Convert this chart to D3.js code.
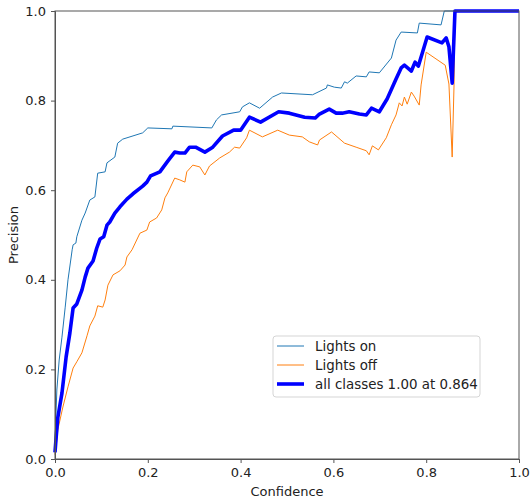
<!DOCTYPE html>
<html>
<head>
<meta charset="utf-8">
<script src="https://cdn.jsdelivr.net/npm/d3@7"></script>
<style>
  body { margin: 0; background: #fff; }
  svg text { font-family: "DejaVu Sans", sans-serif; fill: #222; }
  .axis path, .axis line { stroke: #555; }
</style>
</head>
<body>
<div id="pc-chart"></div>
<script>
// precision vs confidence
var lightsOnConf = [0, 0.004, 0.009, 0.015, 0.022, 0.028, 0.037, 0.039, 0.045, 0.047, 0.058, 0.065, 0.075, 0.086, 0.092, 0.108, 0.112, 0.129, 0.135, 0.146, 0.189, 0.200, 0.252, 0.254, 0.338, 0.348, 0.359, 0.398, 0.404, 0.419, 0.441, 0.469, 0.488, 0.555, 0.585, 0.587, 0.602, 0.617, 0.624, 0.630, 0.649, 0.671, 0.677, 0.699, 0.725, 0.735, 0.746, 0.781, 0.785, 0.832, 0.839, 1.0];
var lightsOnPrec = [0.04, 0.154, 0.221, 0.272, 0.339, 0.400, 0.467, 0.478, 0.482, 0.496, 0.533, 0.549, 0.578, 0.585, 0.638, 0.641, 0.661, 0.674, 0.705, 0.714, 0.728, 0.739, 0.737, 0.743, 0.739, 0.757, 0.768, 0.775, 0.786, 0.795, 0.783, 0.808, 0.817, 0.813, 0.828, 0.835, 0.830, 0.828, 0.842, 0.839, 0.855, 0.853, 0.864, 0.862, 0.895, 0.935, 0.953, 0.951, 0.973, 0.969, 1.0, 1.0];

var lightsOffConf = [0, 0.004, 0.006, 0.017, 0.028, 0.039, 0.047, 0.058, 0.069, 0.075, 0.086, 0.092, 0.103, 0.108, 0.114, 0.125, 0.140, 0.151, 0.155, 0.166, 0.183, 0.198, 0.204, 0.219, 0.230, 0.237, 0.243, 0.258, 0.269, 0.280, 0.284, 0.297, 0.312, 0.323, 0.333, 0.355, 0.376, 0.387, 0.398, 0.413, 0.419, 0.447, 0.480, 0.505, 0.533, 0.548, 0.566, 0.570, 0.596, 0.624, 0.649, 0.671, 0.677, 0.684, 0.697, 0.714, 0.725, 0.735, 0.742, 0.748, 0.753, 0.759, 0.768, 0.774, 0.785, 0.789, 0.800, 0.841, 0.849, 0.856, 0.860, 0.862, 1.0];
var lightsOffPrec = [0.01, 0.042, 0.065, 0.116, 0.161, 0.203, 0.217, 0.237, 0.275, 0.297, 0.319, 0.342, 0.339, 0.355, 0.388, 0.411, 0.420, 0.433, 0.451, 0.467, 0.504, 0.511, 0.529, 0.538, 0.556, 0.583, 0.594, 0.627, 0.623, 0.618, 0.641, 0.656, 0.652, 0.634, 0.654, 0.672, 0.685, 0.696, 0.694, 0.717, 0.734, 0.719, 0.734, 0.723, 0.719, 0.708, 0.701, 0.712, 0.730, 0.705, 0.696, 0.688, 0.679, 0.699, 0.690, 0.717, 0.746, 0.768, 0.795, 0.788, 0.808, 0.792, 0.819, 0.810, 0.790, 0.835, 0.908, 0.879, 0.837, 0.674, 0.835, 1.0, 1.0];

var allConf = [0, 0.002, 0.006, 0.015, 0.024, 0.032, 0.039, 0.047, 0.058, 0.065, 0.071, 0.082, 0.090, 0.097, 0.105, 0.112, 0.118, 0.129, 0.140, 0.155, 0.168, 0.189, 0.198, 0.206, 0.226, 0.243, 0.258, 0.269, 0.280, 0.290, 0.303, 0.323, 0.340, 0.361, 0.385, 0.400, 0.419, 0.443, 0.482, 0.505, 0.538, 0.561, 0.570, 0.591, 0.606, 0.619, 0.634, 0.656, 0.671, 0.682, 0.699, 0.716, 0.735, 0.746, 0.753, 0.768, 0.776, 0.783, 0.791, 0.802, 0.834, 0.843, 0.849, 0.856, 0.862, 1.0];
var allPrec = [0.015, 0.042, 0.092, 0.147, 0.228, 0.281, 0.337, 0.346, 0.377, 0.406, 0.426, 0.442, 0.471, 0.491, 0.496, 0.522, 0.529, 0.549, 0.563, 0.580, 0.592, 0.609, 0.618, 0.632, 0.641, 0.665, 0.685, 0.683, 0.683, 0.696, 0.696, 0.685, 0.696, 0.721, 0.734, 0.734, 0.763, 0.752, 0.775, 0.772, 0.763, 0.761, 0.770, 0.781, 0.772, 0.772, 0.775, 0.770, 0.768, 0.783, 0.775, 0.804, 0.848, 0.873, 0.879, 0.866, 0.886, 0.877, 0.904, 0.942, 0.929, 0.940, 0.920, 0.839, 1.0, 1.0];

var seriesNames = ["Lights on", "Lights off", "all classes 1.00 at 0.864"];
var tickValues = [0, 0.2, 0.4, 0.6, 0.8, 1.0];

var makeSeries = (name, xs, ys) => ({ name, values: xs.map((x, i) => ({ x, y: ys[i] })) });
var data = [
  makeSeries(seriesNames[0], lightsOnConf, lightsOnPrec),
  makeSeries(seriesNames[1], lightsOffConf, lightsOffPrec),
  makeSeries(seriesNames[2], allConf, allPrec)
];

var colors = ["#1f77b4", "#ff7f0e", "#0000ff"];
var widths = [1, 1, 3.6];

var render = function() {
  var width = 531, height = 499;
  var margins = { top: 11, right: 12, bottom: 40, left: 55 };
  var chartWidth = width - margins.left - margins.right;
  var chartHeight = height - margins.top - margins.bottom;

  var container = d3.select("#pc-chart");
  container.html("");

  var svg = container.append("svg")
    .attr("width", width)
    .attr("height", height);

  var chart = svg.append("g")
    .attr("transform", `translate(${margins.left},${margins.top})`);

  var xScale = d3.scaleLinear().domain([0, 1]).range([0, chartWidth]);
  var yScale = d3.scaleLinear().domain([0, 1]).range([chartHeight, 0]);

  svg.append("defs").append("clipPath")
    .attr("id", "plot-clip")
    .append("rect")
    .attr("x", -2).attr("y", -2)
    .attr("width", chartWidth + 4).attr("height", chartHeight + 4);

  var line = d3.line()
    .x(d => xScale(d.x))
    .y(d => yScale(d.y));

  chart.append("g")
    .attr("class", "lines")
    .attr("clip-path", "url(#plot-clip)")
    .selectAll("path")
    .data(data)
    .enter()
    .append("path")
    .attr("fill", "none")
    .attr("stroke", (d, i) => colors[i])
    .attr("stroke-width", (d, i) => widths[i])
    .attr("stroke-linejoin", "round")
    .attr("d", d => line(d.values));

  // axes
  var fmt = d3.format(".1f");
  chart.append("g")
    .attr("class", "x axis")
    .attr("transform", `translate(0,${chartHeight})`)
    .call(d3.axisBottom(xScale).tickValues(tickValues).tickFormat(fmt).tickSize(4).tickPadding(5))
    .call(g => g.selectAll("text").style("font-size", "13px"));

  chart.append("g")
    .attr("class", "y axis")
    .call(d3.axisLeft(yScale).tickValues(tickValues).tickFormat(fmt).tickSize(4).tickPadding(5))
    .call(g => g.selectAll("text").style("font-size", "13px"));

  // top and right spines
  chart.append("rect")
    .attr("width", chartWidth)
    .attr("height", chartHeight)
    .attr("fill", "none")
    .attr("stroke", "#555")
    .attr("stroke-width", 1);

  svg.selectAll(".axis text").attr("fill", "#222").style("fill", "#222");

  // axis titles
  svg.append("text")
    .attr("x", margins.left + chartWidth / 2)
    .attr("y", 496)
    .attr("text-anchor", "middle")
    .style("font-size", "13px")
    .text("Confidence");

  svg.append("text")
    .attr("transform", `translate(18,${margins.top + chartHeight / 2}) rotate(-90)`)
    .attr("text-anchor", "middle")
    .style("font-size", "13px")
    .text("Precision");

  // legend
  var legend = svg.append("g")
    .attr("class", "legend")
    .attr("transform", "translate(273,336)");

  legend.append("rect")
    .attr("width", 207)
    .attr("height", 61)
    .attr("rx", 3)
    .attr("fill", "#fff")
    .attr("fill-opacity", 0.8)
    .attr("stroke", "#d5d5d5");

  var items = legend.selectAll("g.item")
    .data(data)
    .enter()
    .append("g")
    .attr("class", "item")
    .attr("transform", (d, i) => `translate(0,${10 + i * 19})`);

  items.append("line")
    .attr("x1", 4).attr("x2", 31)
    .attr("stroke", (d, i) => colors[i])
    .attr("stroke-width", (d, i) => widths[i]);

  items.append("text")
    .attr("x", 42)
    .attr("dy", "0.36em")
    .style("font-size", "13.4px")
    .text(d => d.name);
};

window.onload = render;
</script>
</body>
</html>
